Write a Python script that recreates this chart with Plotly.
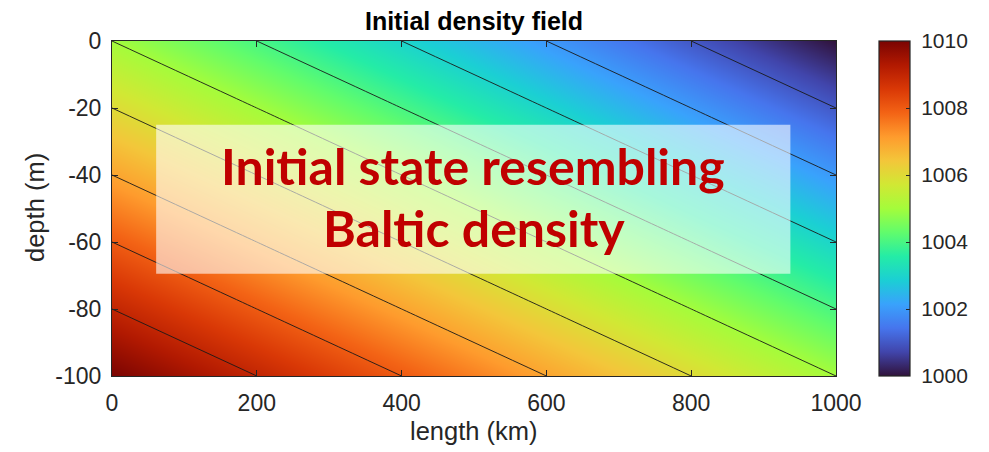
import plotly.graph_objects as go

# grid of the density field
length_km = [0, 200, 400, 600, 800, 1000]
depth_m = [0, -20, -40, -60, -80, -100]
density = [
    [1005, 1004, 1003, 1002, 1001, 1000],
    [1006, 1005, 1004, 1003, 1002, 1001],
    [1007, 1006, 1005, 1004, 1003, 1002],
    [1008, 1007, 1006, 1005, 1004, 1003],
    [1009, 1008, 1007, 1006, 1005, 1004],
    [1010, 1009, 1008, 1007, 1006, 1005],
]
x_ticks = [0, 200, 400, 600, 800, 1000]
x_tick_labels = ['0', '200', '400', '600', '800', '1000']
y_ticks = [0, -20, -40, -60, -80, -100]
y_tick_labels = ['0', '-20', '-40', '-60', '-80', '-100']
cbar_ticks = [1000, 1002, 1004, 1006, 1008, 1010]
cbar_tick_labels = ['1000', '1002', '1004', '1006', '1008', '1010']

turbo = ['#30123b', '#4145ab', '#4675ed', '#39a2fc', '#1bcfd4', '#24eca6',
         '#61fc6c', '#a4fc3b', '#d1e834', '#f3c63a', '#fe9b2d', '#f36315',
         '#d93806', '#b11901', '#7a0402']
n = len(turbo)
colorscale = [[i / (n - 1), c] for i, c in enumerate(turbo)]

axis_col = '#262626'
font_fam = 'Liberation Sans, Arial, sans-serif'

# page is offset by the 8px body margin
W, H = 981, 444
L, T, PW, PH = 104, 33, 724, 335

fig = go.Figure()
# heatmap trace underneath only to supply a smooth colorbar
fig.add_trace(go.Heatmap(
    x=length_km, y=depth_m, z=density, zsmooth='best',
    colorscale=colorscale, zmin=1000, zmax=1010, hoverinfo='skip',
    colorbar=dict(
        x=(879 - 112) / PW, xanchor='left', xpad=0,
        y=0.5, yanchor='middle', len=1.0, lenmode='fraction', ypad=0,
        thickness=31, thicknessmode='pixels',
        tickvals=cbar_ticks, ticktext=['\u00a0' + t for t in cbar_tick_labels],
        ticks='inside', ticklen=4, tickcolor=axis_col,
        outlinecolor=axis_col, outlinewidth=1.2,
        tickfont=dict(family=font_fam, size=21, color=axis_col),
    ),
))
fig.add_trace(go.Contour(
    x=length_km, y=depth_m, z=density,
    colorscale=colorscale, zmin=1000, zmax=1010, showscale=False,
    contours=dict(coloring='heatmap', start=1000, end=1010, size=1, showlines=True),
    line=dict(color='#1a1a1a', width=0.9, smoothing=0),
    hoverinfo='skip',
))

# translucent label box
fig.add_shape(type='rect', x0=61, x1=937, y0=-25, y1=-69.5,
              xref='x', yref='y', fillcolor='rgba(255,255,255,0.6)',
              line=dict(width=0), layer='above')
fig.add_annotation(x=499, y=-37.3, xref='x', yref='y', text='<b>Initial state resembling</b>',
                   showarrow=False, font=dict(family='Lato, sans-serif', size=50, color='#c00000'))
fig.add_annotation(x=500, y=-55.8, xref='x', yref='y', text='<b>Baltic density</b>',
                   showarrow=False, font=dict(family='Lato, sans-serif', size=50, color='#c00000'))

# axis titles
fig.add_annotation(x=0.5, y=-(431 - 376) / PH, xref='paper', yref='paper', text='length (km)',
                   showarrow=False, xanchor='center', yanchor='middle',
                   font=dict(family=font_fam, size=25.5, color=axis_col))
fig.add_annotation(x=(35 - 112) / PW, y=(376 - 208) / PH, xref='paper', yref='paper', text='depth (m)',
                   showarrow=False, xanchor='center', yanchor='middle', textangle=-90,
                   font=dict(family=font_fam, size=25.5, color=axis_col))

fig.update_layout(
    width=W, height=H,
    margin=dict(l=L, r=W - L - PW, t=T, b=H - T - PH),
    paper_bgcolor='white', plot_bgcolor='white',
    font=dict(family=font_fam, color=axis_col),
    title=dict(text='<b>Initial density field</b>', x=(L + PW / 2) / W, xanchor='center',
               y=1 - 13 / H, yanchor='middle', font=dict(size=25, color='black')),
    xaxis=dict(range=[0, 1000], tickvals=x_ticks, ticktext=x_tick_labels, ticks='inside', ticklen=6,
               tickcolor=axis_col, showline=True, linecolor=axis_col, linewidth=1,
               mirror='ticks', showgrid=False, zeroline=False, ticklabelstandoff=6,
               tickfont=dict(size=23)),
    yaxis=dict(range=[-100, 0], tickvals=y_ticks, ticktext=y_tick_labels, ticks='inside', ticklen=6,
               tickcolor=axis_col, showline=True, linecolor=axis_col, linewidth=1,
               mirror='ticks', showgrid=False, zeroline=False, ticklabelstandoff=5,
               tickfont=dict(size=23)),
)

fig.write_html('out.html')
